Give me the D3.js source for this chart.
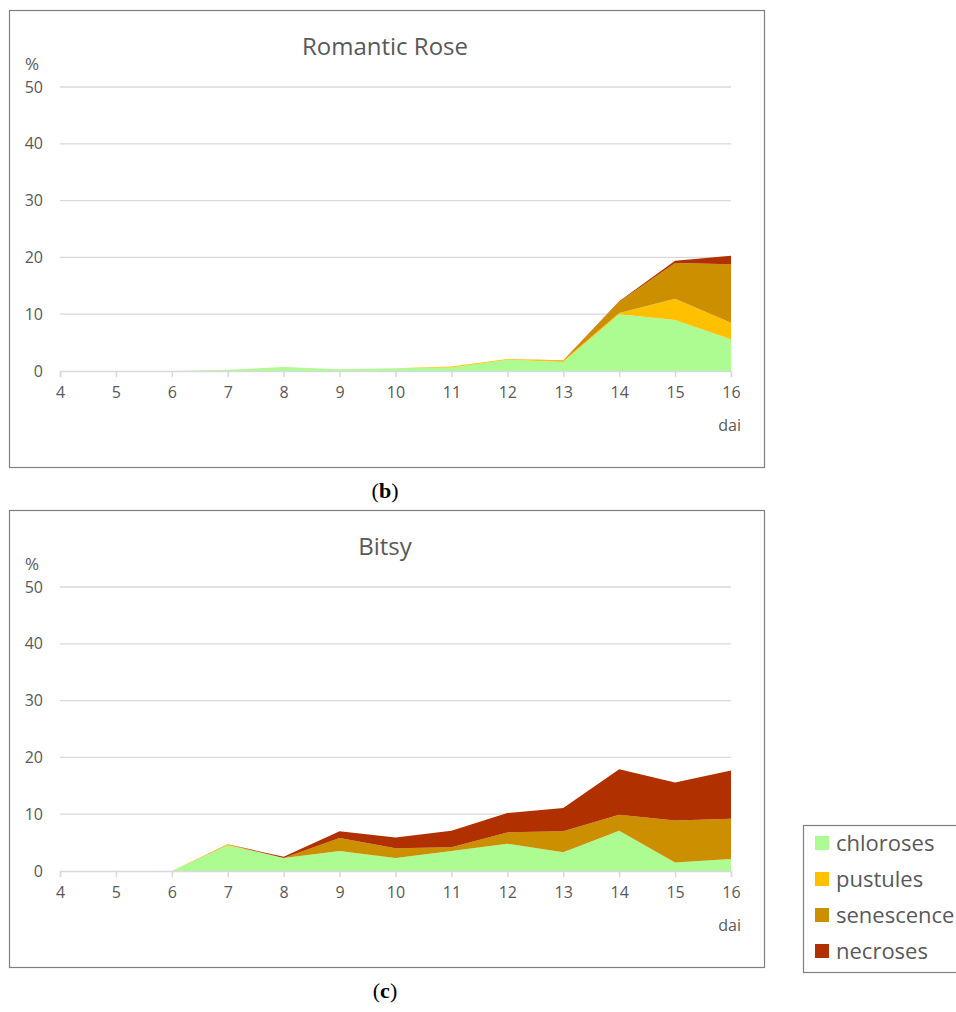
<!DOCTYPE html>
<html>
<head>
<meta charset="utf-8">
<script src="https://cdn.jsdelivr.net/npm/d3@7"></script>
<style>
  body { margin: 0; background: #fff; }
  svg { display: block; }
</style>
</head>
<body>
<div id="chart"></div>
<script>
// ---- data ----
const days = [4, 5, 6, 7, 8, 9, 10, 11, 12, 13, 14, 15, 16];
const seriesNames = ["chloroses", "pustules", "senescence", "necroses"];
const seriesColors = ["#adfc92", "#ffc000", "#cc8f00", "#b03000"];
const yTicks = [0, 10, 20, 30, 40, 50];

// Romantic Rose
const roseChloroses  = [0, 0, 0, 0.2, 0.7, 0.3, 0.5, 0.6, 2.0, 1.6, 10.0, 9.0, 5.6];
const rosePustules   = [0, 0, 0, 0, 0, 0, 0, 0.2, 0.1, 0.2, 0.2, 3.7, 2.9];
const roseSenescence = [0, 0, 0, 0, 0, 0, 0, 0, 0, 0.1, 2.0, 6.3, 10.3];
const roseNecroses   = [0, 0, 0, 0, 0, 0, 0, 0, 0, 0, 0.1, 0.4, 1.5];

// Bitsy
const bitsyChloroses  = [0, 0, 0, 4.5, 2.3, 3.5, 2.3, 3.5, 4.8, 3.3, 7.1, 1.5, 2.1];
const bitsyPustules   = [0, 0, 0, 0.1, 0, 0, 0, 0, 0, 0, 0, 0, 0];
const bitsySenescence = [0, 0, 0, 0.1, 0, 2.3, 1.7, 0.7, 2.0, 3.7, 2.8, 7.4, 7.1];
const bitsyNecroses   = [0, 0, 0, 0, 0.2, 1.2, 1.9, 2.9, 3.4, 4.1, 8.0, 6.7, 8.5];

const panels = [
  { title: "Romantic Rose", label: "b", top: 10,
    values: [roseChloroses, rosePustules, roseSenescence, roseNecroses] },
  { title: "Bitsy", label: "c", top: 510,
    values: [bitsyChloroses, bitsyPustules, bitsySenescence, bitsyNecroses] }
];

//=============================
//  general attributes
//=============================
const width = 956, height = 1012;
const frameX = 9, frameW = 755, frameH = 457;
const textColor = "#595959";
const font = "'Open Sans', 'Noto Sans', sans-serif";

const svg = d3.select("#chart").append("svg")
  .attr("width", width)
  .attr("height", height)
  .style("font-family", font);

const x = d3.scaleLinear().domain([4, 16]).range([60, 731]);

panels.forEach((p) => {
  const g = svg.append("g").attr("transform", `translate(0, ${p.top})`);

  // frame
  g.append("rect")
    .attr("x", frameX + 0.5).attr("y", 0.5)
    .attr("width", frameW).attr("height", frameH)
    .attr("fill", "#fff").attr("stroke", "#7f7f7f").attr("stroke-width", 1.2);

  const y = d3.scaleLinear().domain([0, 50]).range([361, 77]);

  // grid lines
  g.append("g").selectAll("line")
    .data(yTicks.filter((t) => t > 0))
    .join("line")
    .attr("x1", x(4)).attr("x2", x(16))
    .attr("y1", (d) => y(d)).attr("y2", (d) => y(d))
    .attr("stroke", "#d9d9d9").attr("stroke-width", 1.3);

  // stacked areas
  const rows = days.map((d, i) => {
    const r = { day: d };
    seriesNames.forEach((s, k) => { r[s] = p.values[k][i]; });
    return r;
  });
  const stacked = d3.stack().keys(seriesNames)(rows);
  const area = d3.area()
    .x((d) => x(d.data.day))
    .y0((d) => y(d[0]))
    .y1((d) => y(d[1]));

  g.append("g").selectAll("path")
    .data(stacked)
    .join("path")
    .attr("fill", (d, i) => seriesColors[i])
    .attr("d", area);

  // y axis labels
  const yAxis = g.append("g")
    .attr("transform", `translate(${x(4)}, 0)`)
    .call(d3.axisLeft(y).tickValues(yTicks).tickSize(0).tickPadding(17));
  yAxis.select(".domain").remove();
  yAxis.selectAll("text")
    .attr("fill", textColor)
    .style("font-size", "16px")
    .style("font-family", font);

  // x axis
  const xAxis = g.append("g")
    .attr("transform", `translate(0, ${y(0)})`)
    .call(d3.axisBottom(x).tickValues(days).tickSize(6).tickPadding(10).tickFormat(d3.format("d")));
  xAxis.select(".domain").attr("stroke", "#d9d9d9").attr("stroke-width", 1.5);
  xAxis.selectAll(".tick line").attr("stroke", "#d9d9d9").attr("stroke-width", 1.5);
  xAxis.selectAll("text")
    .attr("fill", textColor)
    .style("font-size", "16px")
    .style("font-family", font);

  // title and axis names
  g.append("text")
    .attr("x", 385).attr("y", 45)
    .attr("text-anchor", "middle")
    .attr("fill", textColor)
    .style("font-size", "24px")
    .text(p.title);

  g.append("text")
    .attr("x", 25).attr("y", 60)
    .attr("fill", textColor)
    .style("font-size", "17px")
    .text("%");

  g.append("text")
    .attr("x", 741).attr("y", 421)
    .attr("text-anchor", "end")
    .attr("fill", textColor)
    .style("font-size", "16px")
    .text("dai");

  // panel label (b) / (c)
  const lab = svg.append("text")
    .attr("x", 385).attr("y", p.top + frameH + 31)
    .attr("text-anchor", "middle")
    .attr("fill", "#000")
    .style("font-family", "'Liberation Serif', 'DejaVu Serif', serif")
    .style("font-size", "22px");
  lab.append("tspan").text("(");
  lab.append("tspan").style("font-weight", "bold").text(p.label);
  lab.append("tspan").text(")");
});

//=============================
//  legend
//=============================
const legend = svg.append("g").attr("transform", "translate(803, 825)");
legend.append("rect")
  .attr("x", 0.5).attr("y", 0.5)
  .attr("width", 170).attr("height", 147)
  .attr("fill", "#fff").attr("stroke", "#7f7f7f").attr("stroke-width", 1.2);

const items = legend.selectAll(".item")
  .data(seriesNames)
  .join("g")
  .attr("transform", (d, i) => `translate(12, ${18 + i * 36})`);

items.append("rect")
  .attr("x", 0).attr("y", -7)
  .attr("width", 14).attr("height", 14)
  .attr("fill", (d, i) => seriesColors[i]);

items.append("text")
  .attr("x", 21).attr("y", 0)
  .attr("dy", "0.35em")
  .attr("fill", textColor)
  .style("font-size", "22px")
  .text((d) => d);
</script>
</body>
</html>
